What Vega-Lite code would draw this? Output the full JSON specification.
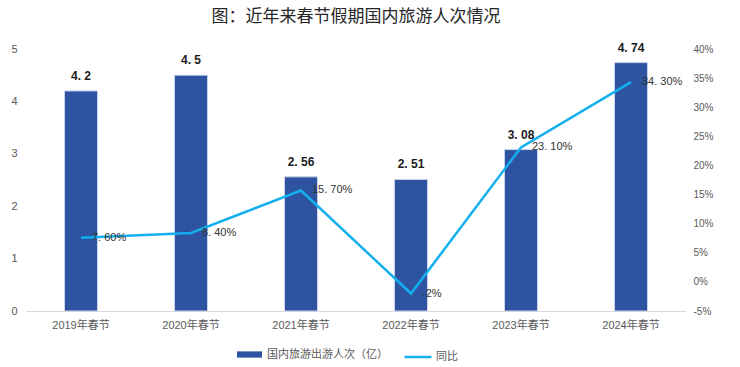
{
  "$schema": "https://vega.github.io/schema/vega-lite/v6.json",
  "autosize": {"type": "none"},
  "width": 660,
  "height": 262,
  "padding": {"left": 26, "top": 49, "right": 54, "bottom": 56},
  "background": "white",
  "config": {
    "view": {"stroke": null},
    "font": "Liberation Sans, 'Noto Sans CJK SC'",
    "axis": {"grid": false, "ticks": false, "labelOverlap": false, "labelFont": "Liberation Sans, 'Noto Sans CJK SC'", "labelColor": "#595959", "labelFontSize": 11, "titleFontSize": 0}
  },
  "title": {
    "text": "图：近年来春节假期国内旅游人次情况",
    "font": "'Noto Sans CJK SC'",
    "fontSize": 17,
    "fontWeight": "normal",
    "color": "#262626",
    "anchor": "middle",
    "offset": 16
  },
  "data": {
    "values": [
      {"year": "2019年春节", "visits": 4.2, "visitsLabel": "4. 2", "yoy": 7.6, "yoyLabel": "7. 60%"},
      {"year": "2020年春节", "visits": 4.5, "visitsLabel": "4. 5", "yoy": 8.4, "yoyLabel": "8. 40%"},
      {"year": "2021年春节", "visits": 2.56, "visitsLabel": "2. 56", "yoy": 15.7, "yoyLabel": "15. 70%"},
      {"year": "2022年春节", "visits": 2.51, "visitsLabel": "2. 51", "yoy": -2, "yoyLabel": "-2%"},
      {"year": "2023年春节", "visits": 3.08, "visitsLabel": "3. 08", "yoy": 23.1, "yoyLabel": "23. 10%"},
      {"year": "2024年春节", "visits": 4.74, "visitsLabel": "4. 74", "yoy": 34.3, "yoyLabel": "34. 30%"}
    ]
  },
  "encoding": {
    "x": {
      "field": "year",
      "type": "nominal",
      "sort": null,
      "title": null,
      "scale": {"paddingInner": 0.7, "paddingOuter": 0.35},
      "axis": {"labelAngle": 0, "domainColor": "#d9d9d9", "labelPadding": 8}
    }
  },
  "layer": [
    {
      "encoding": {
        "y": {
          "field": "visits",
          "type": "quantitative",
          "title": null,
          "scale": {"domain": [0, 5], "nice": false},
          "axis": {"values": [0, 1, 2, 3, 4, 5], "domain": false, "labelPadding": 9, "orient": "left", "labelOverlap": false}
        }
      },
      "layer": [
        {
          "mark": {"type": "bar", "stroke": "#c9d4ec", "strokeWidth": 1},
          "encoding": {
            "fill": {
              "datum": "国内旅游出游人次（亿）",
              "type": "nominal",
              "scale": {"range": ["#2E54A1"]},
              "legend": {
                "orient": "none",
                "legendX": 211,
                "legendY": 293,
                "title": null,
                "symbolType": "M-1,-0.25L1,-0.25L1,0.25L-1,0.25Z",
                "symbolSize": 625,
                "symbolStrokeWidth": 0,
                "labelFont": "'Noto Sans CJK SC'",
                "labelFontSize": 11,
                "labelColor": "#595959",
                "labelOffset": 5
              }
            }
          }
        },
        {
          "mark": {"type": "text", "baseline": "bottom", "dy": -8, "fontSize": 12, "fontWeight": "bold", "color": "#1a1a1a"},
          "encoding": {
            "text": {"field": "visitsLabel"}
          }
        }
      ]
    },
    {
      "encoding": {
        "y": {
          "field": "yoy",
          "type": "quantitative",
          "title": null,
          "scale": {"domain": [-5, 40], "nice": false},
          "axis": {"orient": "right", "values": [-5, 0, 5, 10, 15, 20, 25, 30, 35, 40], "labelExpr": "datum.value + '%'", "domain": false, "labelPadding": 7, "labelOverlap": false, "labelFontSize": 10}
        }
      },
      "layer": [
        {
          "mark": {"type": "line", "strokeWidth": 2.5},
          "encoding": {
            "stroke": {
              "datum": "同比",
              "type": "nominal",
              "scale": {"range": ["#14AFEF"]},
              "legend": {
                "orient": "none",
                "legendX": 377,
                "legendY": 293,
                "title": null,
                "symbolType": "stroke",
                "symbolSize": 729,
                "symbolStrokeWidth": 2.5,
                "labelFont": "'Noto Sans CJK SC'",
                "labelFontSize": 11,
                "labelColor": "#595959",
                "labelOffset": 3
              }
            }
          }
        },
        {
          "mark": {"type": "text", "align": "left", "baseline": "middle", "dx": 11, "fontSize": 11, "color": "#333333"},
          "encoding": {
            "text": {"field": "yoyLabel"}
          }
        }
      ]
    }
  ],
  "resolve": {"scale": {"y": "independent", "fill": "independent", "stroke": "independent"}, "legend": {"fill": "independent", "stroke": "independent"}}
}
